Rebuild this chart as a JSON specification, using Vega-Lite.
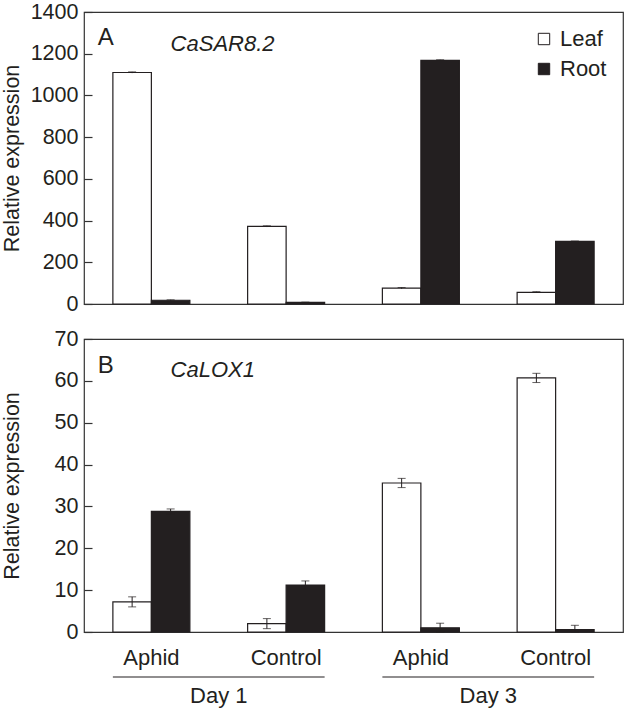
{
  "$schema": "https://vega.github.io/schema/vega-lite/v6.json",
  "padding": {"left": 0, "top": 0, "right": 2, "bottom": 2},
  "background": "white",
  "config": {
    "font": "Liberation Sans",
    "view": {"stroke": "#333333", "strokeWidth": 1.2},
    "axis": {"labelFont": "Liberation Sans", "titleFont": "Liberation Sans", "labelFontSize": 21.5, "titleFontSize": 21.5, "titleFontWeight": "normal", "labelColor": "#231f20", "titleColor": "#231f20", "grid": false},
    "concat": {"spacing": 35}
  },
  "bounds": "flush",
  "datasets": {
    "expr": [
      {"gene": "CaSAR8.2", "group": "Day 1 Aphid", "tissue": "Leaf", "value": 1110, "lo": 1107, "hi": 1113},
      {"gene": "CaSAR8.2", "group": "Day 1 Aphid", "tissue": "Root", "value": 18, "lo": 16, "hi": 20},
      {"gene": "CaSAR8.2", "group": "Day 1 Control", "tissue": "Leaf", "value": 372, "lo": 369, "hi": 375},
      {"gene": "CaSAR8.2", "group": "Day 1 Control", "tissue": "Root", "value": 8, "lo": 7, "hi": 9},
      {"gene": "CaSAR8.2", "group": "Day 3 Aphid", "tissue": "Leaf", "value": 76, "lo": 73, "hi": 79},
      {"gene": "CaSAR8.2", "group": "Day 3 Aphid", "tissue": "Root", "value": 1168, "lo": 1165, "hi": 1171},
      {"gene": "CaSAR8.2", "group": "Day 3 Control", "tissue": "Leaf", "value": 56, "lo": 53, "hi": 59},
      {"gene": "CaSAR8.2", "group": "Day 3 Control", "tissue": "Root", "value": 300, "lo": 298, "hi": 302},
      {"gene": "CaLOX1", "group": "Day 1 Aphid", "tissue": "Leaf", "value": 7.2, "lo": 6.0, "hi": 8.4},
      {"gene": "CaLOX1", "group": "Day 1 Aphid", "tissue": "Root", "value": 28.8, "lo": 28.2, "hi": 29.4},
      {"gene": "CaLOX1", "group": "Day 1 Control", "tissue": "Leaf", "value": 2.0, "lo": 0.8, "hi": 3.2},
      {"gene": "CaLOX1", "group": "Day 1 Control", "tissue": "Root", "value": 11.2, "lo": 10.2, "hi": 12.2},
      {"gene": "CaLOX1", "group": "Day 3 Aphid", "tissue": "Leaf", "value": 35.6, "lo": 34.5, "hi": 36.7},
      {"gene": "CaLOX1", "group": "Day 3 Aphid", "tissue": "Root", "value": 1.0, "lo": 0.0, "hi": 2.1},
      {"gene": "CaLOX1", "group": "Day 3 Control", "tissue": "Leaf", "value": 60.7, "lo": 59.6, "hi": 61.8},
      {"gene": "CaLOX1", "group": "Day 3 Control", "tissue": "Root", "value": 0.6, "lo": 0.0, "hi": 1.6}
    ],
    "panels": [
      {"gene": "CaSAR8.2", "letter": "A"},
      {"gene": "CaLOX1", "letter": "B"}
    ],
    "days": [
      {"day": "Day 1"},
      {"day": "Day 3"}
    ]
  },
  "vconcat": [
    {
      "width": 539,
      "height": 292,
      "layer": [
        {
          "data": {"name": "expr"},
          "transform": [{"filter": "datum.gene === 'CaSAR8.2'"}],
          "encoding": {
            "x": {"field": "group", "type": "nominal", "scale": {"domain": ["Day 1 Aphid", "Day 1 Control", "Day 3 Aphid", "Day 3 Control"], "paddingInner": 0.4286, "paddingOuter": 0.2143}, "axis": null},
            "xOffset": {"field": "tissue", "type": "nominal", "sort": ["Leaf", "Root"], "scale": {"paddingInner": 0, "paddingOuter": 0}}
          },
          "layer": [
            {
              "mark": {"type": "bar", "stroke": "#231f20", "strokeWidth": 1.2},
              "encoding": {
                "y": {"field": "value", "type": "quantitative", "scale": {"domain": [0, 1400], "nice": false}, "axis": {"values": [0, 200, 400, 600, 800, 1000, 1200, 1400], "format": "d", "title": "Relative expression", "offset": -8, "tickSize": 8, "tickWidth": 1.2, "tickColor": "#333333", "domain": false, "labelPadding": 6, "titlePadding": 7, "minExtent": 62}},
                "fill": {"field": "tissue", "type": "nominal", "scale": {"domain": ["Leaf", "Root"], "range": ["#ffffff", "#231f20"]}, "legend": {"title": null, "orient": "top-right", "offset": 16, "symbolType": "square", "symbolSize": 130, "symbolStrokeColor": "#231f20", "symbolStrokeWidth": 1, "labelFontSize": 22, "labelFont": "Liberation Sans", "labelColor": "#231f20", "rowPadding": 8, "labelOffset": 5}}
              }
            },
            {
              "mark": {"type": "rule", "color": "#231f20", "strokeWidth": 1},
              "encoding": {"y": {"field": "lo", "type": "quantitative"}, "y2": {"field": "hi"}}
            },
            {
              "mark": {"type": "tick", "color": "#231f20", "thickness": 1, "size": 8, "orient": "horizontal"},
              "encoding": {"y": {"field": "hi", "type": "quantitative"}}
            }
          ]
        },
        {
          "data": {"name": "panels"},
          "transform": [{"filter": "datum.gene === 'CaSAR8.2'"}],
          "mark": {"type": "text", "fontSize": 24, "font": "Liberation Sans", "color": "#231f20", "align": "right", "baseline": "middle", "dx": 1},
          "encoding": {
            "x": {"datum": "Day 1 Aphid", "type": "nominal", "bandPosition": 0},
            "y": {"datum": 1276, "type": "quantitative"},
            "text": {"field": "letter"}
          }
        },
        {
          "data": {"name": "panels"},
          "transform": [{"filter": "datum.gene === 'CaSAR8.2'"}],
          "mark": {"type": "text", "fontSize": 22, "font": "Liberation Sans", "fontStyle": "italic", "color": "#231f20", "align": "left", "baseline": "middle"},
          "encoding": {
            "x": {"datum": "Day 1 Aphid", "type": "nominal", "bandPosition": 0.75},
            "y": {"datum": 1246, "type": "quantitative"},
            "text": {"field": "gene"}
          }
        }
      ]
    },
    {
      "width": 539,
      "height": 293,
      "layer": [
        {
          "data": {"name": "expr"},
          "transform": [{"filter": "datum.gene === 'CaLOX1'"}],
          "encoding": {
            "x": {"field": "group", "type": "nominal", "scale": {"domain": ["Day 1 Aphid", "Day 1 Control", "Day 3 Aphid", "Day 3 Control"], "paddingInner": 0.4286, "paddingOuter": 0.2143}, "axis": {"title": null, "labelAngle": 0, "ticks": false, "domain": false, "labelPadding": 15, "labelFontSize": 22, "labelExpr": "split(datum.label, ' ')[2]"}},
            "xOffset": {"field": "tissue", "type": "nominal", "sort": ["Leaf", "Root"], "scale": {"paddingInner": 0, "paddingOuter": 0}}
          },
          "layer": [
            {
              "mark": {"type": "bar", "stroke": "#231f20", "strokeWidth": 1.2},
              "encoding": {
                "y": {"field": "value", "type": "quantitative", "scale": {"domain": [0, 70], "nice": false}, "axis": {"values": [0, 10, 20, 30, 40, 50, 60, 70], "title": "Relative expression", "offset": -8, "tickSize": 8, "tickWidth": 1.2, "tickColor": "#333333", "domain": false, "labelPadding": 6, "titlePadding": 7, "minExtent": 62}},
                "fill": {"field": "tissue", "type": "nominal", "scale": {"domain": ["Leaf", "Root"], "range": ["#ffffff", "#231f20"]}, "legend": null}
              }
            },
            {
              "mark": {"type": "rule", "color": "#231f20", "strokeWidth": 1},
              "encoding": {"y": {"field": "lo", "type": "quantitative"}, "y2": {"field": "hi"}}
            },
            {
              "mark": {"type": "tick", "color": "#231f20", "thickness": 1, "size": 8, "orient": "horizontal"},
              "encoding": {"y": {"field": "hi", "type": "quantitative"}}
            },
            {
              "mark": {"type": "tick", "color": "#231f20", "thickness": 1, "size": 8, "orient": "horizontal"},
              "encoding": {"y": {"field": "lo", "type": "quantitative"}}
            }
          ]
        },
        {
          "data": {"name": "panels"},
          "transform": [{"filter": "datum.gene === 'CaLOX1'"}],
          "mark": {"type": "text", "fontSize": 24, "font": "Liberation Sans", "color": "#231f20", "align": "right", "baseline": "middle", "dx": 1},
          "encoding": {
            "x": {"datum": "Day 1 Aphid", "type": "nominal", "bandPosition": 0},
            "y": {"datum": 63.5, "type": "quantitative"},
            "text": {"field": "letter"}
          }
        },
        {
          "data": {"name": "panels"},
          "transform": [{"filter": "datum.gene === 'CaLOX1'"}],
          "mark": {"type": "text", "fontSize": 22, "font": "Liberation Sans", "fontStyle": "italic", "color": "#231f20", "align": "left", "baseline": "middle"},
          "encoding": {
            "x": {"datum": "Day 1 Aphid", "type": "nominal", "bandPosition": 0.75},
            "y": {"datum": 62.5, "type": "quantitative"},
            "text": {"field": "gene"}
          }
        }
      ]
    },
    {
      "width": 539,
      "height": 20,
      "view": {"stroke": null},
      "data": {"name": "days"},
      "layer": [
        {
          "mark": {"type": "rule", "color": "#231f20", "strokeWidth": 1.2},
          "encoding": {
            "x": {"field": "day", "type": "nominal", "bandPosition": 0, "scale": {"paddingInner": 0.2143, "paddingOuter": 0.1071}, "axis": null},
            "x2": {"field": "day", "bandPosition": 1}
          }
        },
        {
          "mark": {"type": "text", "fontSize": 22, "font": "Liberation Sans", "color": "#231f20", "dy": 19},
          "encoding": {
            "x": {"field": "day", "type": "nominal", "scale": {"paddingInner": 0.2143, "paddingOuter": 0.1071}, "axis": null},
            "text": {"field": "day"}
          }
        }
      ]
    }
  ]
}
